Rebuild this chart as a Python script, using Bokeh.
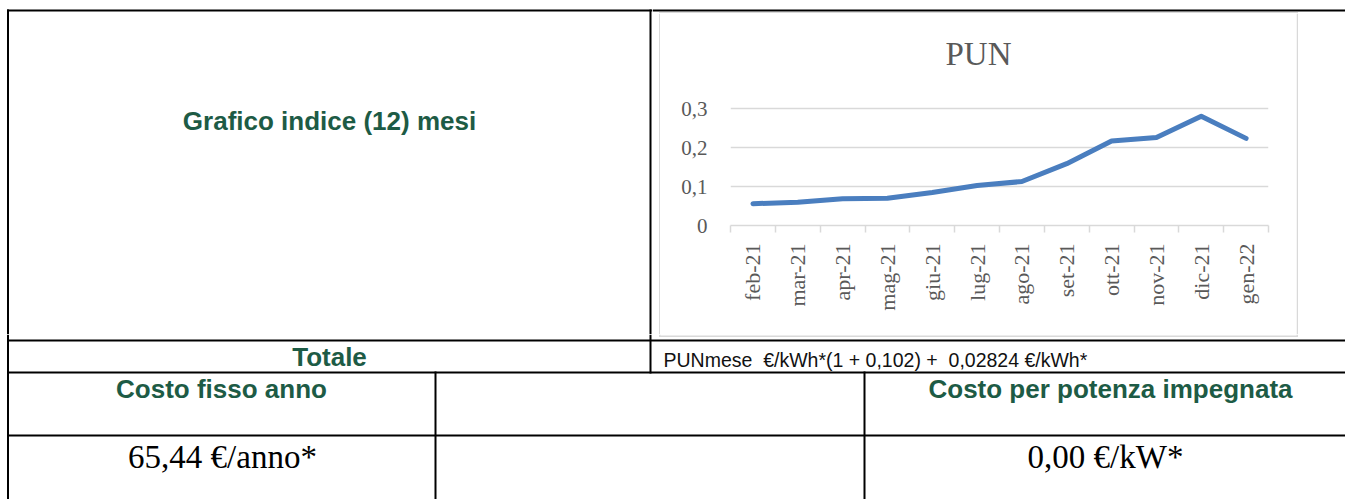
import math
from bokeh.plotting import figure
from bokeh.layouts import row, column
from bokeh.models import Range1d, FixedTicker, CustomJSTickFormatter, Label
from bokeh.core.properties import value
from bokeh.embed import file_html
from bokeh.resources import INLINE

# ---------------- data ----------------
months = ["feb-21", "mar-21", "apr-21", "mag-21", "giu-21", "lug-21",
          "ago-21", "set-21", "ott-21", "nov-21", "dic-21", "gen-22"]
pun = [0.056, 0.060, 0.069, 0.070, 0.085, 0.103,
       0.113, 0.159, 0.217, 0.226, 0.281, 0.224]
y_ticks = [0, 0.1, 0.2, 0.3]

chart_title = "PUN"
header_left = "Grafico indice (12) mesi"
row2_left = "Totale"
row2_right = "PUNmese \u00a0€/kWh*(1 + 0,102) + \u00a00,02824 €/kWh*"
head_fixed = "Costo fisso anno"
head_power = "Costo per potenza impegnata"
val_fixed = "65,44 €/anno*"
val_power = "0,00 €/kW*"

# ---------------- styles ----------------
GRAY = "#595959"
LIGHT = "#d9d9d9"
GREEN = "#1d5b45"
BLUE = "#4a7ebf"
SANS = "Liberation Sans"
SERIF = "Liberation Serif"
BASE_SHIFT = 0.33   # correction of the rendered baseline, in em


def strip(w, h):
    f = figure(width=w, height=h, x_range=Range1d(0, w), y_range=Range1d(h, 0),
               output_backend="svg", toolbar_location=None, min_border=0,
               x_axis_type=None, y_axis_type=None, title=None, frame_align=False)
    f.outline_line_color = None
    f.background_fill_color = "white"
    f.border_fill_color = "white"
    return f


def rect(f, x0, x1, y0, y1, color="black"):
    f.quad(left=[x0], right=[x1], top=[y0], bottom=[y1], fill_color=color, line_color=None)


def txt(f, s, x, y, font, size, color, style="normal", align="center"):
    f.text(x=[x], y=[y - BASE_SHIFT * size], text=[s], text_font=value(font), text_font_size=f"{size}px",
           text_color=color, text_font_style=style, text_align=align, text_baseline="alphabetic")


# ---------------- top-left cell (page y 0..334) ----------------
A = strip(652, 334)
rect(A, 6.5, 652, 9, 11)          # top rule
rect(A, 6.5, 8.5, 9, 334)         # left rule
rect(A, 649, 651, 9, 334)         # middle rule
txt(A, header_left, 329, 129, SANS, 26, GREEN, "bold")

# ---------------- strips around the chart box ----------------
T = strip(693, 13)                # page y 0..13
rect(T, 0, 693, 9, 11)
rect(T, 6.5, 645.5, 11.5, 13, LIGHT)

L = strip(8, 321)                 # page y 13..334
rect(L, 6.5, 8, 0, 321, LIGHT)

R = strip(49, 321)
rect(R, 0, 1.5, 0, 321, LIGHT)

# ---------------- chart (page x 660..1296, y 13..334) ----------------
C = figure(width=636, height=321, output_backend="svg", toolbar_location=None, title=None,
           x_range=Range1d(0, len(months)), y_range=Range1d(0, 0.545), frame_align=False,
           min_border_left=70, min_border_right=28, min_border_top=0, min_border_bottom=109)
C.outline_line_color = None
C.background_fill_color = "white"
C.border_fill_color = "white"

xs = [i + 0.5 for i in range(len(months))]
C.line(xs, pun, line_color=BLUE, line_width=5, line_cap="round", line_join="round")

xa = C.xaxis[0]
xa.ticker = FixedTicker(ticks=xs, minor_ticks=list(range(len(months) + 1)))
xa.formatter = CustomJSTickFormatter(args=dict(labels=months),
                                     code="const i = Math.round(tick - 0.5); return labels[i] ?? '';")
xa.axis_line_color = LIGHT
xa.axis_line_width = 1.5
xa.major_tick_line_color = None
xa.major_tick_out = 0
xa.major_tick_in = 0
xa.minor_tick_line_color = LIGHT
xa.minor_tick_line_width = 1.5
xa.minor_tick_out = 7
xa.minor_tick_in = 0
xa.major_label_orientation = math.pi / 2
xa.major_label_standoff = 11
xa.major_label_text_font = SERIF
xa.major_label_text_font_size = "22px"
xa.major_label_text_color = GRAY

ya = C.yaxis[0]
ya.ticker = FixedTicker(ticks=y_ticks)
ya.formatter = CustomJSTickFormatter(code="return tick === 0 ? '0' : tick.toFixed(1).replace('.', ',');")
ya.axis_line_color = None
ya.major_tick_line_color = None
ya.minor_tick_line_color = None
ya.major_tick_out = 0
ya.major_label_standoff = 23
ya.major_label_text_font = SERIF
ya.major_label_text_font_size = "21px"
ya.major_label_text_color = GRAY

C.xgrid.grid_line_color = None
C.ygrid.grid_line_color = LIGHT
C.ygrid.grid_line_width = 1.5

# chart title, placed relative to the frame (frame left = page 730, frame bottom = page 225)
C.add_layout(Label(x=978 - 730, y=225 - 64 + BASE_SHIFT * 33, x_units="screen", y_units="screen",
                   text=chart_title, text_font=SERIF, text_font_size="33px", text_color=GRAY,
                   text_align="center", text_baseline="alphabetic"))

# ---------------- bottom rows (page y 334..499) ----------------
BT = strip(1345, 165)
rect(BT, 658.5, 660, 0, 2.5, LIGHT)       # end of chart box sides
rect(BT, 1296, 1297.5, 0, 2.5, LIGHT)
rect(BT, 658.5, 1297.5, 1, 2.5, LIGHT)    # chart box bottom
rect(BT, 6.5, 1345, 5, 7)                 # row-1 bottom rule
rect(BT, 6.5, 8.5, 0, 165)
rect(BT, 649, 651, 0, 39)
rect(BT, 6.5, 1345, 37, 39)
rect(BT, 6.5, 1345, 100, 102)
rect(BT, 434, 436, 37, 165)
rect(BT, 863, 865, 37, 165)
txt(BT, row2_left, 329, 31, SANS, 26, GREEN, "bold")
txt(BT, row2_right, 663, 32, SANS, 19.5, "#111111", align="left")
txt(BT, head_fixed, 221, 63, SANS, 26, GREEN, "bold")
txt(BT, head_power, 1110, 63, SANS, 26, GREEN, "bold")
txt(BT, val_fixed, 222, 133, SERIF, 33, "black")
txt(BT, val_power, 1105, 133, SERIF, 33, "black")

layout = column(row(A, column(T, row(L, C, R))), BT)

open("out.html", "w").write(file_html(layout, INLINE))
